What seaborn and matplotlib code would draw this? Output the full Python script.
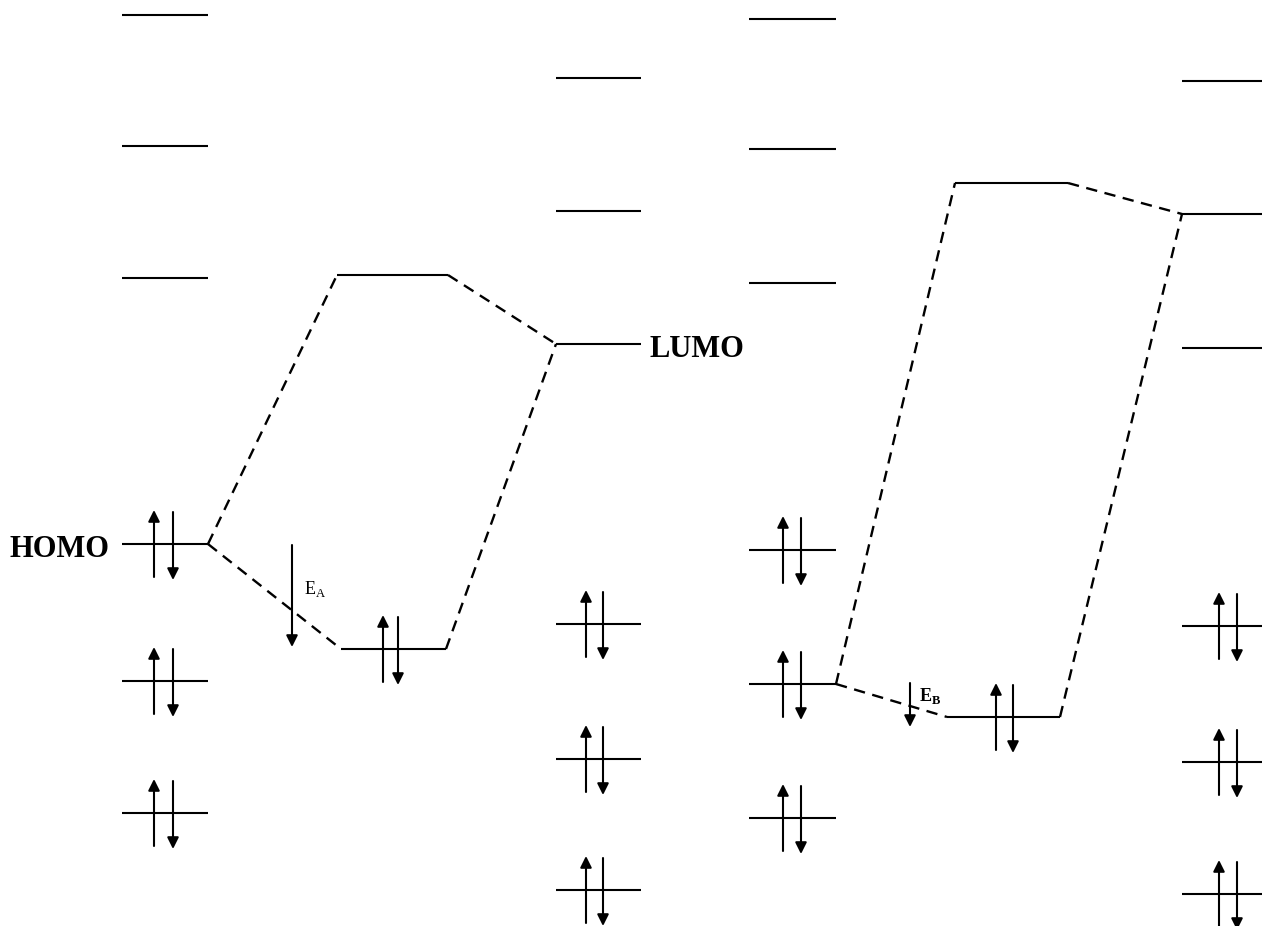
import matplotlib
matplotlib.use("Agg")
import matplotlib.pyplot as plt
import seaborn as sns
import pandas as pd

# ---- data (energy levels, in picture units; y grows downward) ----
# molecule A (left), complex A, molecule A' (right)
molA_span = (122, 208)
molA_levels = [15, 146, 278, 544, 681, 813]
molA_occupied = [544, 681, 813]
molA_spins = (154, 173)

cplxA_upper_span = (337, 448)
cplxA_lower_span = (341, 446)
cplxA_levels = [275, 649]
cplxA_occupied = [649]
cplxA_spins = (383, 398)

molA2_span = (556, 641)
molA2_levels = [78, 211, 344, 624, 759, 890]
molA2_occupied = [624, 759, 890]
molA2_spins = (586, 603)

# molecule B (left), complex B, molecule B' (right)
molB_span = (749, 836)
molB_levels = [19, 149, 283, 550, 684, 818]
molB_occupied = [550, 684, 818]
molB_spins = (783, 801)

cplxB_upper_span = (955, 1068)
cplxB_lower_span = (947, 1060)
cplxB_levels = [183, 717]
cplxB_occupied = [717]
cplxB_spins = (996, 1013)

molB2_span = (1182, 1262)
molB2_levels = [81, 214, 348, 626, 762, 894]
molB2_occupied = [626, 762, 894]
molB2_spins = (1219, 1237)

# correlation (dashed) connectors: (x, y) endpoints
connector_id = ["a1", "a1", "a2", "a2", "a3", "a3", "a4", "a4",
                "b1", "b1", "b2", "b2", "b3", "b3", "b4", "b4"]
connector_x = [208, 337, 448, 556, 208, 341, 446, 556,
               836, 955, 1068, 1182, 836, 947, 1060, 1182]
connector_y = [544, 275, 275, 344, 544, 649, 649, 344,
               684, 183, 183, 214, 684, 717, 717, 214]

# stabilisation energies
EA_arrow = (292, 545, 647)
EB_arrow = (910, 683, 727)
labels_text = ["HOMO", "LUMO", "E$_\\mathregular{A}$", "E$_\\mathregular{B}$"]

# ---- figure ----
sns.set_theme(style="white")
plt.rcParams["font.family"] = ["Liberation Serif", "DejaVu Serif"]
plt.rcParams["text.color"] = "black"

W, H = 1262, 926
fig = plt.figure(figsize=(W / 100, H / 100), dpi=100)
ax = fig.add_axes([0, 0, 1, 1])
ax.set_xlim(0, W)
ax.set_ylim(H, 0)
ax.axis("off")

LW = 1.5
ARROW = dict(arrowstyle="-|>", color="black", lw=1.5, mutation_scale=17,
             shrinkA=0, shrinkB=0)


def draw_level(span, y):
    ax.plot([span[0], span[1]], [y, y], color="black", lw=LW, solid_capstyle="butt")


def draw_pair(spins, y):
    up_x, down_x = spins
    ax.annotate("", xy=(up_x, y - 34), xytext=(up_x, y + 33),
                arrowprops=ARROW, annotation_clip=False)
    ax.annotate("", xy=(down_x, y + 36), xytext=(down_x, y - 32),
                arrowprops=ARROW, annotation_clip=False)


for span, levels, occ, spins in [
    (molA_span, molA_levels, molA_occupied, molA_spins),
    (molA2_span, molA2_levels, molA2_occupied, molA2_spins),
    (molB_span, molB_levels, molB_occupied, molB_spins),
    (molB2_span, molB2_levels, molB2_occupied, molB2_spins),
]:
    for y in levels:
        draw_level(span, y)
    for y in occ:
        draw_pair(spins, y)

draw_level(cplxA_upper_span, cplxA_levels[0])
draw_level(cplxA_lower_span, cplxA_levels[1])
for y in cplxA_occupied:
    draw_pair(cplxA_spins, y)
draw_level(cplxB_upper_span, cplxB_levels[0])
draw_level(cplxB_lower_span, cplxB_levels[1])
for y in cplxB_occupied:
    draw_pair(cplxB_spins, y)

# dashed correlation lines through seaborn
conn = pd.DataFrame({"id": connector_id, "x": connector_x, "y": connector_y})
sns.lineplot(data=conn, x="x", y="y", units="id", estimator=None, sort=False,
             color="black", lw=1.7, dashes=False, linestyle=(0, (4.8, 3.2)),
             ax=ax, legend=False)
ax.set_xlim(0, W)
ax.set_ylim(H, 0)
ax.axis("off")

# energy arrows
for (x, y0, y1) in [EA_arrow, EB_arrow]:
    ax.annotate("", xy=(x, y1), xytext=(x, y0), arrowprops=ARROW,
                annotation_clip=False)

# labels
ax.text(10, 557, labels_text[0], fontsize=22, fontweight="bold", color="black",
        ha="left", va="baseline")
ax.text(650, 357, labels_text[1], fontsize=22, fontweight="bold", color="black",
        ha="left", va="baseline")
ax.text(304, 594, labels_text[2], fontsize=13, color="black", ha="left", va="baseline")
ax.text(919, 701, labels_text[3], fontsize=13, fontweight="bold", color="black",
        ha="left", va="baseline")

fig.savefig("out.png", dpi=100, facecolor="white")
